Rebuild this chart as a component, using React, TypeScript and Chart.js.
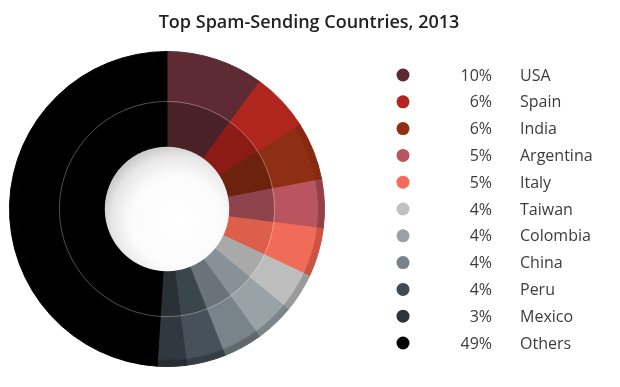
import React, { useEffect, useRef } from 'react';
import { Chart, registerables } from 'chart.js';

Chart.register(...registerables);

const TITLE = 'Top Spam-Sending Countries, 2013';
const countries = ['USA', 'Spain', 'India', 'Argentina', 'Italy', 'Taiwan', 'Colombia', 'China', 'Peru', 'Mexico', 'Others'];
const shares = [10, 6, 6, 5, 5, 4, 4, 4, 4, 3, 49];
const percentLabels = ['10%', '6%', '6%', '5%', '5%', '4%', '4%', '4%', '4%', '3%', '49%'];
const outerColors = ['#5e2a33', '#b0251e', '#8e2e12', '#b8555f', '#f06c58', '#bdbdbd', '#99a2a7', '#79838a', '#46515a', '#313940', '#000000'];
const innerColors = ['#4a2127', '#8d1b15', '#6c220c', '#8f434d', '#dc5e4b', '#a9a9a9', '#879197', '#6a737a', '#3a454c', '#293036', '#000000'];
const rimColors = ['#5e2a33', '#b0251e', '#86290f', '#94404b', '#cc5341', '#9a9a9a', '#7b8489', '#60686e', '#353e44', '#262c31', '#000000'];
const legendColors = ['#5b2a33', '#b1261d', '#922f12', '#b65461', '#f26c59', '#c0c0c0', '#9aa0a5', '#79828a', '#3f4a52', '#2e343a', '#000000'];

const decorPlugin = {
  id: 'decor',
  afterDatasetsDraw(chart: any) {
    const ctx = chart.ctx;
    const innerMeta = chart.getDatasetMeta(2);
    const outerMeta = chart.getDatasetMeta(1);
    const a: any = innerMeta.data[0];
    const b: any = outerMeta.data[0];
    if (!a || !b) return;
    const cx = a.x, cy = a.y;
    const r = a.innerRadius;
    ctx.save();
    ctx.beginPath();
    ctx.arc(cx, cy, r + 0.5, 0, Math.PI * 2);
    ctx.clip();
    const g = ctx.createRadialGradient(cx + 10, cy + 12, 0, cx + 10, cy + 12, r * 1.25);
    g.addColorStop(0, '#ffffff');
    g.addColorStop(0.6, '#fbfbfb');
    g.addColorStop(0.85, '#e6e6e6');
    g.addColorStop(1, '#c8c8c8');
    ctx.fillStyle = g;
    ctx.fillRect(cx - r - 2, cy - r - 2, r * 2 + 4, r * 2 + 4);
    ctx.restore();
    ctx.save();
    ctx.beginPath();
    ctx.arc(cx, cy, b.innerRadius, 0, Math.PI * 2);
    ctx.strokeStyle = 'rgba(255,255,255,0.3)';
    ctx.lineWidth = 1;
    ctx.stroke();
    ctx.restore();
  },
  afterDraw(chart: any) {
    const ctx = chart.ctx;
    ctx.save();
    ctx.fillStyle = '#222222';
    ctx.font = '600 18px "Open Sans"';
    ctx.textAlign = 'center';
    ctx.textBaseline = 'middle';
    ctx.fillText(TITLE, 309, 23);
    ctx.font = '16px "Open Sans"';
    countries.forEach((name, i) => {
      const y = 75 + i * 26.8;
      ctx.beginPath();
      ctx.arc(403, y, 6.5, 0, Math.PI * 2);
      ctx.fillStyle = legendColors[i];
      ctx.fill();
      ctx.fillStyle = '#3c3c3c';
      ctx.textAlign = 'right';
      ctx.fillText(percentLabels[i], 492, y + 1);
      ctx.textAlign = 'left';
      ctx.fillText(name, 520, y + 1);
    });
    ctx.restore();
  },
};

export default function App() {
  const ref = useRef<HTMLCanvasElement>(null);
  useEffect(() => {
    if (!ref.current) return;
    const chart = new Chart(ref.current, {
      type: 'doughnut',
      data: {
        labels: countries,
        datasets: [
          { data: shares, backgroundColor: rimColors, borderColor: rimColors, borderWidth: 1, weight: 6 } as any,
          { data: shares, backgroundColor: outerColors, borderColor: outerColors, borderWidth: 1, weight: 44 } as any,
          { data: shares, backgroundColor: innerColors, borderColor: innerColors, borderWidth: 1, weight: 46 } as any,
        ],
      },
      options: {
        responsive: false,
        animation: false,
        devicePixelRatio: 1,
        cutout: '39.2%',
        layout: { padding: { left: 9, top: 51, right: 295, bottom: 20 } },
        plugins: { legend: { display: false }, tooltip: { enabled: false }, title: { display: false } },
      },
      plugins: [decorPlugin],
    });
    return () => chart.destroy();
  }, []);
  return (
    <div style={{ position: 'fixed', left: 0, top: 0, width: 620, height: 387, background: '#fff' }}>
      <canvas ref={ref} width={620} height={387} />
    </div>
  );
}
